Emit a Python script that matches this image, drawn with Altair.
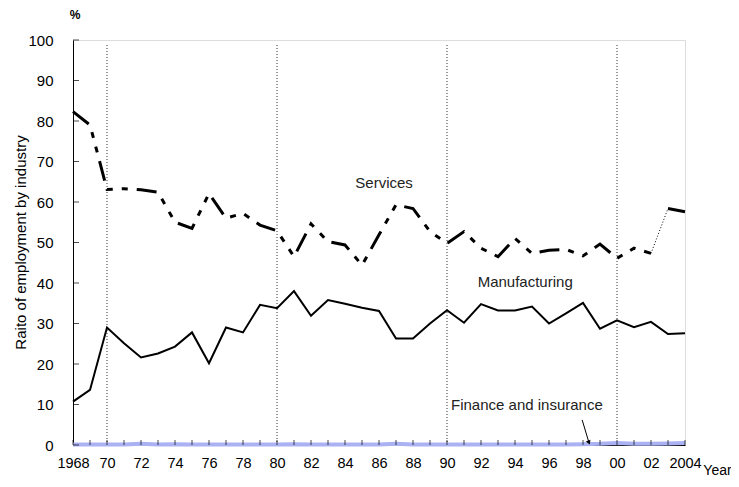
import altair as alt
import pandas as pd

# ---------------- data ----------------
years = list(range(1968, 2005))
services = [82.3, 79.0, 63.1, 63.3, 63.0, 62.4, 55.0, 53.5, 62.1, 56.0,
            57.2, 54.3, 52.9, 46.5, 54.6, 50.2, 49.4, 44.4, 51.9, 59.3,
            58.4, 52.7, 49.8, 52.7, 48.6, 46.5, 51.0, 47.3, 48.1, 48.3,
            46.7, 49.6, 46.1, 48.6, 47.3, 58.4, 57.6]
manufacturing = [10.7, 13.6, 29.0, 25.1, 21.6, 22.6, 24.3, 27.8, 20.2, 29.0,
                 27.8, 34.6, 33.8, 38.0, 31.9, 35.8, 34.9, 33.9, 33.1, 26.3,
                 26.3, 30.0, 33.3, 30.2, 34.8, 33.2, 33.2, 34.2, 30.0, 32.5,
                 35.1, 28.7, 30.8, 29.1, 30.4, 27.4, 27.6]
finance = [0.1, 0.1, 0.1, 0.1, 0.3, 0.1, 0.2, 0.1, 0.1, 0.1,
           0.1, 0.1, 0.1, 0.2, 0.1, 0.1, 0.1, 0.1, 0.1, 0.3,
           0.1, 0.1, 0.1, 0.1, 0.1, 0.1, 0.1, 0.1, 0.1, 0.1,
           0.2, 0.3, 0.5, 0.3, 0.3, 0.4, 0.5]

label_years = list(range(1968, 2005, 2))
decade_years = [1970, 1980, 1990, 2000]
y_tick_values = [0, 10, 20, 30, 40, 50, 60, 70, 80, 90, 100]

series_labels = ["Services", "Manufacturing", "Finance and insurance"]
series_label_x = [1986.3, 1994.6, 1994.7]
series_label_y = [64.8, 40.2, 9.9]

arrow_x = [1997.95, 1998.35]
arrow_y = [6.2, 0.6]

FONT = "Liberation Sans, Arial, sans-serif"

# ---------------- tables ----------------
df = pd.DataFrame({"year": years, "services": services,
                   "manufacturing": manufacturing, "finance": finance})
svc_main = df[df.year <= 2002]
svc_gap = df[(df.year >= 2002) & (df.year <= 2003)]
svc_end = df[df.year >= 2003]
rules_df = pd.DataFrame({"year": decade_years, "lo": 0, "hi": 99})
xt_df = pd.DataFrame({"year": years, "v": 0})
yt_df = pd.DataFrame({"year": 1968, "v": y_tick_values})
lab_df = pd.DataFrame({"x": series_label_x, "y": series_label_y, "t": series_labels})
arr_df = pd.DataFrame({"x": arrow_x, "y": arrow_y})
arr_head = arr_df.tail(1)

xs = alt.Scale(domain=[1968, 2004], nice=False, zero=False)
ys = alt.Scale(domain=[0, 100], nice=False)

x_axis = alt.Axis(
    values=label_years, format="d",
    labelExpr="datum.value == 1968 || datum.value == 2004 ? toString(datum.value) : substring(toString(datum.value), 2, 4)",
    ticks=False, tickSize=0, labelPadding=18, labelFont=FONT, labelFontSize=14.5,
    labelColor="#000", labelBaseline="middle", domainColor="#000", grid=False,
    title="Year", titleFont=FONT, titleFontSize=14, titleFontWeight="normal",
    titleX=644, titleY=25, titleBaseline="middle", titleAlign="center", titleColor="#000",
    zindex=0, labelOverlap=False, labelFlush=False,
)
y_axis = alt.Axis(
    values=y_tick_values, ticks=False, tickSize=0, labelPadding=20,
    labelFont=FONT, labelFontSize=15, labelColor="#000", domainColor="#000", grid=False,
    title="Raito of employment by industry", titleFont=FONT, titleFontSize=15,
    titleFontWeight="normal", titleColor="#000", titleAngle=270,
    titleX=-53, titleY=202, titleAlign="center", titleBaseline="middle", zindex=0,
)

X = lambda f: alt.X(f, type="quantitative", scale=xs, axis=x_axis)
Y = lambda f: alt.Y(f, type="quantitative", scale=ys, axis=y_axis)

rules = alt.Chart(rules_df).mark_rule(color="#333", strokeWidth=1, strokeDash=[1, 2]).encode(
    x=X("year"), y=Y("lo"), y2="hi")

fin = alt.Chart(df).mark_line(color="#aab2f4", strokeWidth=4, opacity=1).encode(
    x=X("year"), y=Y("finance"))

man = alt.Chart(df).mark_line(color="#000", strokeWidth=2).encode(
    x=X("year"), y=Y("manufacturing"))

dash = [20, 9, 6, 9, 6, 9]
s1 = alt.Chart(svc_main).mark_line(color="#000", strokeWidth=3, strokeDash=dash).encode(
    x=X("year"), y=Y("services"))
s2 = alt.Chart(svc_gap).mark_line(color="#000", strokeWidth=1, strokeDash=[1, 2]).encode(
    x=X("year"), y=Y("services"))
s3 = alt.Chart(svc_end).mark_line(color="#000", strokeWidth=3, strokeDash=dash).encode(
    x=X("year"), y=Y("services"))

xt = alt.Chart(xt_df).mark_tick(orient="vertical", color="#000", size=5, thickness=1, yOffset=-2.5).encode(
    x=X("year"), y=Y("v"))
yt = alt.Chart(yt_df).mark_tick(orient="horizontal", color="#000", size=6, thickness=1, xOffset=3).encode(
    x=X("year"), y=Y("v"))

labs = alt.Chart(lab_df).mark_text(font=FONT, fontSize=15, color="#222", align="center", baseline="middle").encode(
    x=X("x"), y=Y("y"), text="t")

arr = alt.Chart(arr_df).mark_line(color="#000", strokeWidth=1).encode(x=X("x"), y=Y("y"))
head = alt.Chart(arr_head).mark_point(shape="triangle-down", filled=True, color="#000", size=25, angle=338, opacity=1).encode(
    x=X("x"), y=Y("y"))

pct = alt.Chart(xt_df.head(1)).mark_text(text="%", font=FONT, fontSize=12, fontWeight="bold", color="#000").encode(
    x=alt.value(2), y=alt.value(-25))

chart = alt.layer(rules, fin, man, s1, s2, s3, xt, yt, labs, arr, head, pct).properties(
    width=612, height=405,
    autosize=alt.AutoSizeParams(type="none"),
    padding={"left": 65, "top": 32, "right": 46, "bottom": 34},
).configure_view(stroke=None).configure(background="white")

chart.save("out.html", embed_options={"renderer": "svg", "actions": False})
